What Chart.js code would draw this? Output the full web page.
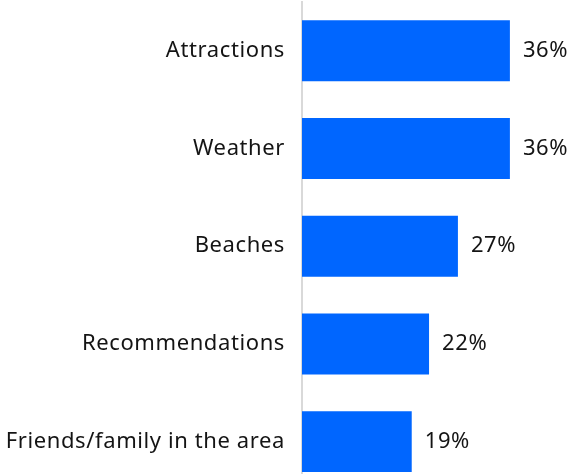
<!DOCTYPE html>
<html>
<head>
<meta charset="utf-8">
<script src="https://cdn.jsdelivr.net/npm/chart.js@4/dist/chart.umd.min.js"></script>
<style>
  html, body { margin: 0; padding: 0; background: #fff; overflow: hidden; }
  #wrap { width: 571px; height: 474px; overflow: hidden; }
  #wrap canvas { display: block; }
</style>
</head>
<body>
<div id="wrap"><canvas id="chart" width="571" height="491"></canvas></div>
<script>
(function () {
    'use strict';

    var categories = ['Attractions', 'Weather', 'Beaches', 'Recommendations', 'Friends/family in the area'];
    var shares = [36, 36, 27, 22, 19];
    var axisMax = 40;

    var fontFamily = '"Noto Sans", sans-serif';
    var fontSize = 22;
    var textColor = '#141414';

    // a touch of tracking on every text drawn on the canvas
    var tracking = {
        id: 'tracking',
        beforeDraw: function (chart) {
            chart.ctx.letterSpacing = '0.6px';
        }
    };

    // value labels sit just past the end of each bar
    var valueLabels = {
        id: 'valueLabels',
        afterDatasetsDraw: function (chart) {
            var ctx = chart.ctx;
            var meta = chart.getDatasetMeta(0);
            ctx.save();
            ctx.font = fontSize + 'px ' + fontFamily;
            ctx.fillStyle = textColor;
            ctx.textAlign = 'left';
            ctx.textBaseline = 'middle';
            meta.data.forEach(function (bar, i) {
                ctx.fillText(shares[i] + '%', bar.x + 13, bar.y);
            });
            ctx.restore();
        }
    };

    new Chart(document.getElementById('chart'), {
        type: 'bar',
        data: {
            labels: categories,
            datasets: [{
                data: shares,
                backgroundColor: '#0066ff',
                borderWidth: 0,
                barPercentage: 0.624,
                categoryPercentage: 1
            }]
        },
        plugins: [tracking, valueLabels],
        options: {
            indexAxis: 'y',
            responsive: false,
            animation: false,
            layout: { padding: { top: 2, right: 38, bottom: 0, left: 0 } },
            plugins: {
                legend: { display: false },
                tooltip: { enabled: false }
            },
            scales: {
                x: {
                    display: false,
                    min: 0,
                    max: axisMax
                },
                y: {
                    afterFit: function (scale) { scale.width = 302; },
                    // tickLength (not padding) keeps labels off the axis without
                    // adding vertical padding to the chart area
                    grid: { display: false, drawTicks: true, tickLength: 17 },
                    border: { display: true, color: '#d9d9d9', width: 2 },
                    ticks: {
                        padding: 0,
                        color: textColor,
                        font: { family: fontFamily, size: fontSize, lineHeight: 0.05 }
                    }
                }
            }
        }
    });
})();
</script>
</body>
</html>
